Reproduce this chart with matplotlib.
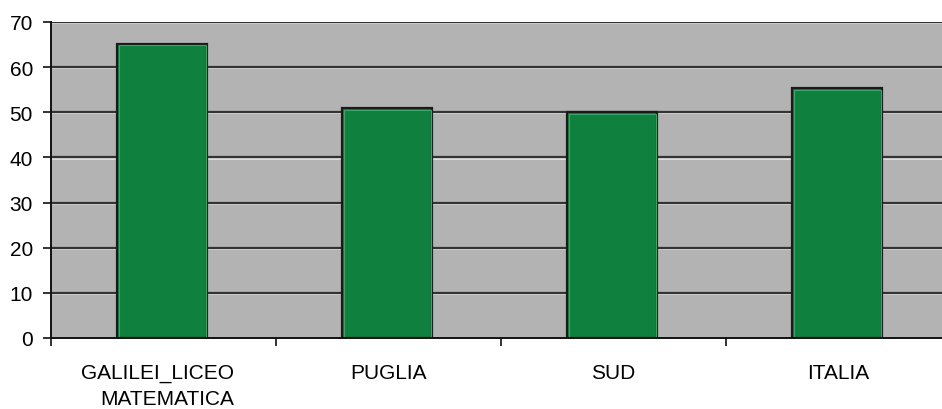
import numpy as np
import matplotlib
matplotlib.use("Agg")
import matplotlib.pyplot as plt
import matplotlib.transforms as mtransforms

# data
categories = ["GALILEI_LICEO\nMATEMATICA", "PUGLIA", "SUD", "ITALIA"]
values = [65.2, 50.9, 50.0, 55.3]
yticks = [0, 10, 20, 30, 40, 50, 60, 70]

plt.rcParams['font.family'] = ['Liberation Sans', 'DejaVu Sans']

fig = plt.figure(figsize=(9.42, 4.10), dpi=100)
# plot area runs a little past the right edge, as in the reference
ax = fig.add_axes([51/942, 1 - 339/410, 900/942, 316/410])
ax.set_facecolor('#b3b3b3')

x = np.arange(len(categories))
ax.set_xlim(-0.5, len(categories) - 0.5)
ax.set_ylim(0, 70)

# grid lines: dark line with a light line just below
px = 70 / 316.0
for v in yticks[1:]:
    ax.axhline(v - px * 1.2, color='#e6e6e6', lw=1.2, zorder=1)
    ax.axhline(v, color='#333333', lw=1.6, zorder=1.5)

ax.bar(x - 0.005, values, width=0.4, color='#10803f', edgecolor='#1a1a1a',
       linewidth=1.6, zorder=3)
# light inner rim on the bars
ax.bar(x - 0.005, [v - px * 1.6 for v in values], width=0.4 - 3.2 / 225,
       color='none', edgecolor='#3aa567', linewidth=0.8, zorder=4)

for s in ['top', 'right']:
    ax.spines[s].set_visible(False)
ax.spines['left'].set_color('#111111')
ax.spines['bottom'].set_color('#111111')
ax.spines['left'].set_linewidth(1.4)
ax.spines['bottom'].set_linewidth(1.4)
ax.spines['left'].set_zorder(5)
ax.spines['bottom'].set_zorder(5)

ax.set_yticks(yticks)
ax.tick_params(axis='y', length=6, width=1.2, pad=7, labelsize=15,
               direction='out', color='#111111')

ax.set_xticks(x)
ax.set_xticklabels(categories, fontsize=15, linespacing=1.45,
                   multialignment='right')
ax.tick_params(axis='x', which='major', length=0, pad=18)
ax.set_xticks(np.arange(len(categories) + 1) - 0.5, minor=True)
ax.tick_params(axis='x', which='minor', length=6, width=1.2,
               direction='out', color='#111111')

# first label sits a little left of its bar in the reference
lab = ax.get_xticklabels()[0]
lab.set_transform(lab.get_transform() +
                  mtransforms.ScaledTranslation(-6/100, 0, fig.dpi_scale_trans))

fig.savefig('out.png', dpi=100)
